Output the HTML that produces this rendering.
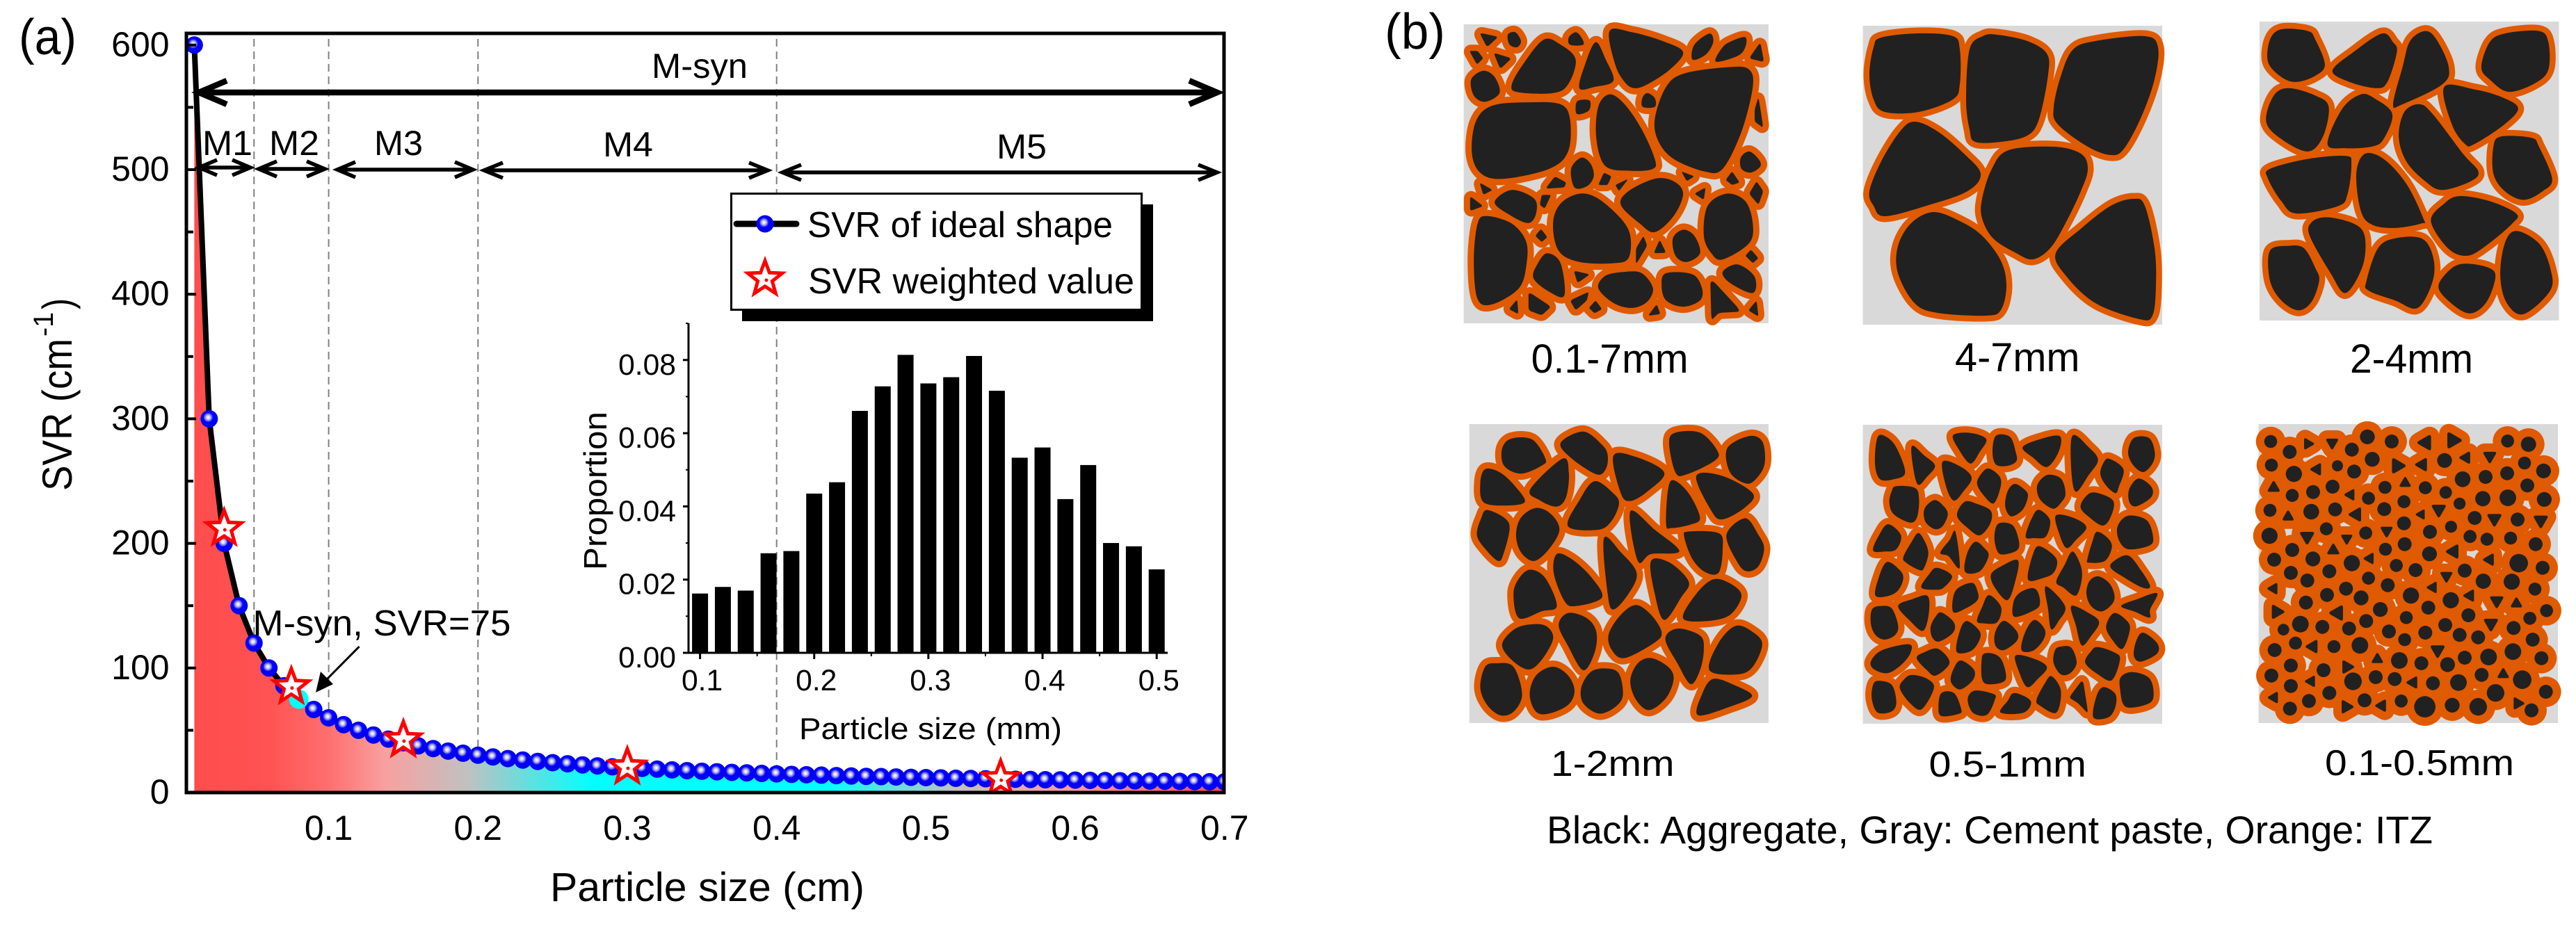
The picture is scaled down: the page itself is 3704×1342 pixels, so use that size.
<!DOCTYPE html>
<html lang="en">
<head>
<meta charset="utf-8">
<title>SVR of ideal shape and aggregate meso-structures</title>
<style>
html,body{margin:0;padding:0;background:#fff}
svg{display:block}
text{font-family:"Liberation Sans",sans-serif;fill:#000}
</style>
</head>
<body>
<svg xmlns="http://www.w3.org/2000/svg" width="3704" height="1342" viewBox="0 0 3704 1342">
<defs>
<linearGradient id="areaGrad" gradientUnits="userSpaceOnUse" x1="279" y1="0" x2="1760" y2="0">
<stop offset="0" stop-color="#ff4d4d"/><stop offset="0.0727" stop-color="#ff5252"/><stop offset="0.131" stop-color="#ff6f6f"/><stop offset="0.186" stop-color="#f9a0a0"/><stop offset="0.264" stop-color="#c2c0c0"/><stop offset="0.388" stop-color="#00ffff"/><stop offset="0.614" stop-color="#00ffff"/><stop offset="0.739" stop-color="#c2c0c0"/><stop offset="0.855" stop-color="#ff9a9a"/><stop offset="1" stop-color="#ff5050"/>
</linearGradient>
<radialGradient id="ball" cx="0.44" cy="0.42" r="0.5">
<stop offset="0" stop-color="#ffffff"/><stop offset="0.18" stop-color="#dcdcff"/><stop offset="0.4" stop-color="#7070f0"/><stop offset="0.56" stop-color="#0000ff"/><stop offset="1" stop-color="#0000f0"/>
</radialGradient>
<clipPath id="plotClip"><rect x="268" y="48" width="1492" height="1092"/></clipPath>
</defs>

<g id="panelA">
<g id="dashes"></g>
<g id="plot" clip-path="url(#plotClip)"></g>
<rect x="268" y="48" width="1492" height="1092" fill="none" stroke="#000" stroke-width="5"/>
<g id="mainTicks"></g>

<text x="27" y="78" font-size="72" textLength="83" lengthAdjust="spacingAndGlyphs">(a)</text>

<text transform="translate(103,706) rotate(-90)" font-size="60" textLength="219" lengthAdjust="spacingAndGlyphs">SVR (cm</text>
<text transform="translate(76,484) rotate(-90)" font-size="40" textLength="35" lengthAdjust="spacingAndGlyphs">-1</text>
<text transform="translate(103,445) rotate(-90)" font-size="60" textLength="16" lengthAdjust="spacingAndGlyphs">)</text>
<text x="791" y="1296" font-size="58" textLength="452" lengthAdjust="spacingAndGlyphs">Particle size (cm)</text>

<text x="937" y="112" font-size="50" textLength="138" lengthAdjust="spacingAndGlyphs">M-syn</text>
<text x="291" y="223" font-size="50" textLength="72" lengthAdjust="spacingAndGlyphs">M1</text>
<text x="387" y="223" font-size="50" textLength="72" lengthAdjust="spacingAndGlyphs">M2</text>
<text x="538" y="223" font-size="50" textLength="70" lengthAdjust="spacingAndGlyphs">M3</text>
<text x="867" y="225" font-size="50" textLength="72" lengthAdjust="spacingAndGlyphs">M4</text>
<text x="1433" y="228" font-size="50" textLength="72" lengthAdjust="spacingAndGlyphs">M5</text>
<g id="ranges"></g>

<g>
<rect x="1067" y="294" width="591" height="168" fill="#000"/>
<rect x="1051.5" y="278.5" width="590" height="167" fill="#fff" stroke="#000" stroke-width="3"/>
<line x1="1059" y1="322" x2="1145" y2="322" stroke="#000" stroke-width="9" stroke-linecap="round"/>
<circle cx="1100" cy="322" r="12.5" fill="url(#ball)"/>
<text x="1161" y="341" font-size="52" textLength="439" lengthAdjust="spacingAndGlyphs">SVR of ideal shape</text>
<path id="legendStar" fill="#fff" stroke="#f00" stroke-width="5"/>
<circle cx="1102" cy="403" r="2.5" fill="#f00"/>
<text x="1162" y="422" font-size="52" textLength="469" lengthAdjust="spacingAndGlyphs">SVR weighted value</text>
</g>

<text x="363.5" y="914" font-size="52" textLength="371" lengthAdjust="spacingAndGlyphs">M-syn, SVR=75</text>
<line x1="516.6" y1="930" x2="468" y2="979" stroke="#000" stroke-width="3"/>
<polygon points="454,996 461,966 479,984" fill="#000"/>

<g id="inset">
<text transform="translate(872,820) rotate(-90)" font-size="46" textLength="228" lengthAdjust="spacingAndGlyphs">Proportion</text>
<text x="1149" y="1063" font-size="44" textLength="378" lengthAdjust="spacingAndGlyphs">Particle size (mm)</text>
</g>
</g>

<g id="panelB">
<text x="1991" y="70" font-size="72" textLength="87" lengthAdjust="spacingAndGlyphs">(b)</text>
<rect x="2104.6" y="35" width="438.4" height="430" fill="#d9d9d9"/>
<rect x="2678.6" y="37" width="430.4" height="430" fill="#d9d9d9"/>
<rect x="3249" y="31" width="430.5" height="430" fill="#d9d9d9"/>
<rect x="2112.7" y="610" width="430.3" height="430" fill="#d9d9d9"/>
<rect x="2678.6" y="611" width="430.4" height="430" fill="#d9d9d9"/>
<rect x="3247.6" y="610" width="430.4" height="430" fill="#d9d9d9"/>
<g id="grains"></g>
<text x="2201.6" y="536" font-size="58" textLength="226" lengthAdjust="spacingAndGlyphs">0.1-7mm</text>
<text x="2811" y="534" font-size="58" textLength="179.5" lengthAdjust="spacingAndGlyphs">4-7mm</text>
<text x="3379" y="536" font-size="58" textLength="177" lengthAdjust="spacingAndGlyphs">2-4mm</text>
<text x="2230" y="1116" font-size="52" textLength="177.6" lengthAdjust="spacingAndGlyphs">1-2mm</text>
<text x="2773.5" y="1117" font-size="52" textLength="226.5" lengthAdjust="spacingAndGlyphs">0.5-1mm</text>
<text x="3343" y="1115" font-size="52" textLength="272" lengthAdjust="spacingAndGlyphs">0.1-0.5mm</text>
<text x="2224" y="1213" font-size="56" textLength="1274" lengthAdjust="spacingAndGlyphs">Black: Aggregate, Gray: Cement paste, Orange: ITZ</text>
</g>
</svg>

<script>
// ---- main chart data ----
const sizes = [0.01,0.02,0.03,0.04,0.05,0.06,0.07,0.08,0.09,0.10,0.11,0.12,0.13,0.14,0.15,0.16,0.17,0.18,0.19,0.20,0.21,0.22,0.23,0.24,0.25,0.26,0.27,0.28,0.29,0.30,0.31,0.32,0.33,0.34,0.35,0.36,0.37,0.38,0.39,0.40,0.41,0.42,0.43,0.44,0.45,0.46,0.47,0.48,0.49,0.50,0.51,0.52,0.53,0.54,0.55,0.56,0.57,0.58,0.59,0.60,0.61,0.62,0.63,0.64,0.65,0.66,0.67,0.68,0.69,0.70];
const svrValues = [600,300,200,150,120,100,85.7,75,66.7,60,54.5,50,46.2,42.9,40,37.5,35.3,33.3,31.6,30,28.6,27.3,26.1,25,24,23.1,22.2,21.4,20.7,20,19.4,18.8,18.2,17.6,17.1,16.7,16.2,15.8,15.4,15,14.6,14.3,14,13.6,13.3,13,12.8,12.5,12.2,12,11.8,11.5,11.3,11.1,10.9,10.7,10.5,10.3,10.2,10,9.8,9.7,9.5,9.4,9.2,9.1,9,8.8,8.7,8.6];
const weightedSizes = [0.03,0.075,0.15,0.30,0.55];
const weightedSvr = [212,85,42.4,20.6,11];
const mSynSize = [0.08];
const mSynSvr = [75];
const boundarySizes = [0.01,0.05,0.1,0.2,0.4];
const boundarySvr = [600,120,60,30,15];
const xTickLabels = ["0.1","0.2","0.3","0.4","0.5","0.6","0.7"];
const yTickLabels = ["0","100","200","300","400","500","600"];
const yMinorTicks = [50,150,250,350,450,550];
// ---- inset histogram data ----
const binCenters = [0.10,0.12,0.14,0.16,0.18,0.20,0.22,0.24,0.26,0.28,0.30,0.32,0.34,0.36,0.38,0.40,0.42,0.44,0.46,0.48,0.50];
const proportions = [0.0162,0.018,0.017,0.0272,0.0278,0.0435,0.0466,0.0661,0.0728,0.0814,0.0736,0.0753,0.0811,0.0716,0.0533,0.0561,0.042,0.0513,0.03,0.0291,0.0228];
const insetXTickLabels = ["0.1","0.2","0.3","0.4","0.5"];
const insetYTickLabels = ["0.00","0.02","0.04","0.06","0.08"];
const insetYMinor = [0.01,0.03,0.05,0.07,0.09];
const insetXMinor = [0.15,0.25,0.35,0.45];

const NS = 'http://www.w3.org/2000/svg';
function mk(tag, parent, attrs){
  const e = document.createElementNS(NS, tag);
  for (const k in attrs) e.setAttribute(k, attrs[k]);
  parent.appendChild(e);
  return e;
}
const xMain = v => 472.6 + (v - 0.1) * 2147;
const yMain = v => 1140 - 1.792 * v;
const xIn = v => 1006.6 + (v - 0.1) * 1641.5;
const yIn = v => 939 - 5265 * v;
function starPath(cx, cy, r){
  let d = '';
  for (let i = 0; i < 10; i++){
    const rr = i % 2 ? r * 0.42 : r;
    const a = -Math.PI / 2 + i * Math.PI / 5;
    d += (i ? 'L' : 'M') + (cx + rr * Math.cos(a)).toFixed(1) + ' ' + (cy + rr * Math.sin(a)).toFixed(1);
  }
  return d + 'Z';
}
document.getElementById('legendStar').setAttribute('d', starPath(1100, 401, 26));

// dashed size boundaries
const dashG = document.getElementById('dashes');
boundarySizes.forEach((s, i) => {
  const l = mk('line', dashG, {x1: xMain(s) - (i === 0 ? 2 : 0), x2: xMain(s) - (i === 0 ? 2 : 0), y1: 56, y2: yMain(boundarySvr[i]), stroke: '#808080', 'stroke-width': 2, 'stroke-dasharray': '11 7'});
  
  
});

// area, curve, markers
const plot = document.getElementById('plot');
const curvePts = sizes.map((s, i) => xMain(s).toFixed(1) + ' ' + yMain(svrValues[i]).toFixed(1));
const area = mk('path', plot, {d: 'M' + xMain(sizes[0]).toFixed(1) + ' ' + yMain(0) + 'L' + curvePts.join('L') + 'L' + xMain(sizes[sizes.length - 1]).toFixed(1) + ' ' + yMain(0) + 'Z', fill: 'url(#areaGrad)'});


const curve = mk('path', plot, {d: 'M' + curvePts.join('L'), fill: 'none', stroke: '#000', 'stroke-width': 8, 'stroke-linejoin': 'round'});


sizes.forEach((s, i) => {
  const m = mk('circle', plot, {cx: xMain(s), cy: yMain(svrValues[i]), r: 12.5, fill: 'url(#ball)'});
  
  
});
mSynSize.forEach((s, i) => {
  const c = mk('circle', plot, {cx: xMain(s), cy: yMain(mSynSvr[i]), r: 14, fill: '#00ffff'});
  
  
});
weightedSizes.forEach((s, i) => {
  const cx = xMain(s), cy = yMain(weightedSvr[i]);
  const st = mk('path', plot, {d: starPath(cx, cy, 26), fill: '#fff', stroke: '#f00', 'stroke-width': 5});
  
  
  const dot = mk('circle', plot, {cx: cx + 1, cy: cy + 2, r: 2.5, fill: '#f00'});
  
  
});

// main ticks
const tickG = document.getElementById('mainTicks');
yTickLabels.forEach(lbl => {
  const v = +lbl;
  const t = mk('line', tickG, {x1: 268, x2: 282, y1: yMain(v), y2: yMain(v), stroke: '#000', 'stroke-width': 4});
  
  
  const x = mk('text', tickG, {x: 243.6, y: yMain(v) + 16, 'font-size': 50, 'text-anchor': 'end'});
  x.textContent = lbl;
  
  
});
yMinorTicks.forEach(v => {
  const t = mk('line', tickG, {x1: 268, x2: 278, y1: yMain(v), y2: yMain(v), stroke: '#000', 'stroke-width': 4});
  
  
});
xTickLabels.forEach(lbl => {
  const x = mk('text', tickG, {x: xMain(+lbl), y: 1208, 'font-size': 50, 'text-anchor': 'middle'});
  x.textContent = lbl;
  
  
});

// range arrows
const rangeG = document.getElementById('ranges');
function arrow(x1, x2, y, sw, back, half, name){
  const d = 'M' + x1 + ' ' + y + 'L' + x2 + ' ' + y +
    'M' + (x1 + back) + ' ' + (y - half) + 'L' + x1 + ' ' + y + 'L' + (x1 + back) + ' ' + (y + half) +
    'M' + (x2 - back) + ' ' + (y - half) + 'L' + x2 + ' ' + y + 'L' + (x2 - back) + ' ' + (y + half);
  const a = mk('path', rangeG, {d: d, fill: 'none', stroke: '#000', 'stroke-width': sw, 'stroke-linejoin': 'miter'});
  
  
}
arrow(286, 1750, 133, 8.5, 40, 17, 'm-syn-range-arrow');
arrow(286, 360, 241, 5.5, 26, 11, 'm1-range-arrow');
arrow(372, 467, 243, 5.5, 26, 11, 'm2-range-arrow');
arrow(485, 680, 244, 5.5, 26, 11, 'm3-range-arrow');
arrow(696, 1104, 245, 5.5, 27, 11, 'm4-range-arrow');
arrow(1125, 1750, 248, 5.5, 27, 11, 'm5-range-arrow');

// inset
const inset = document.getElementById('inset');
binCenters.forEach((c, i) => {
  const top = yIn(proportions[i]);
  const b = mk('rect', inset, {x: xIn(c) - 11.5, y: top, width: 23, height: yIn(0) - top, fill: '#000'});
  
  
});
const ia = mk('path', inset, {d: 'M990 465V939H1679', fill: 'none', stroke: '#000', 'stroke-width': 3});


insetYTickLabels.forEach(lbl => {
  const v = +lbl;
  const t = mk('line', inset, {x1: 982, x2: 990, y1: yIn(v), y2: yIn(v), stroke: '#000', 'stroke-width': 3});
  
  
  const x = mk('text', inset, {x: 972, y: yIn(v) + 21, 'font-size': 42.6, 'text-anchor': 'end'});
  x.textContent = lbl;
  
  
});
insetYMinor.forEach(v => {
  const t = mk('line', inset, {x1: 986, x2: 990, y1: yIn(v), y2: yIn(v), stroke: '#000', 'stroke-width': 2});
  
  
});
insetXTickLabels.forEach(lbl => {
  const v = +lbl;
  const t = mk('line', inset, {x1: xIn(v), x2: xIn(v), y1: 939, y2: 948, stroke: '#000', 'stroke-width': 3});
  
  
  const x = mk('text', inset, {x: xIn(v) + 3, y: 993, 'font-size': 42.6, 'text-anchor': 'middle'});
  x.textContent = lbl;
  
  
});
insetXMinor.forEach(v => {
  const t = mk('line', inset, {x1: xIn(v), x2: xIn(v), y1: 939, y2: 944, stroke: '#000', 'stroke-width': 2});
  
  
});

// ---- meso-structure illustrations (traced outlines) ----
function closed(p){
  const n = p.length;
  let d = '';
  if (n <= 4){
    const f = 0.2;
    for (let i = 0; i < n; i++){
      const a = p[(i + n - 1) % n], b = p[i], c = p[(i + 1) % n];
      const s = [b[0] + (a[0] - b[0]) * f, b[1] + (a[1] - b[1]) * f];
      const e = [b[0] + (c[0] - b[0]) * f, b[1] + (c[1] - b[1]) * f];
      d += (i ? 'L' : 'M') + s[0].toFixed(1) + ' ' + s[1].toFixed(1) + 'Q' + b[0].toFixed(1) + ' ' + b[1].toFixed(1) + ' ' + e[0].toFixed(1) + ' ' + e[1].toFixed(1);
    }
    return d + 'Z';
  }
  d = 'M' + p[0][0].toFixed(1) + ' ' + p[0][1].toFixed(1);
  for (let i = 0; i < n; i++){
    const p0 = p[(i + n - 1) % n], p1 = p[i], p2 = p[(i + 1) % n], p3 = p[(i + 2) % n];
    const c1 = [p1[0] + (p2[0] - p0[0]) / 6, p1[1] + (p2[1] - p0[1]) / 6];
    const c2 = [p2[0] - (p3[0] - p1[0]) / 6, p2[1] - (p3[1] - p1[1]) / 6];
    d += 'C' + c1[0].toFixed(1) + ' ' + c1[1].toFixed(1) + ' ' + c2[0].toFixed(1) + ' ' + c2[1].toFixed(1) + ' ' + p2[0].toFixed(1) + ' ' + p2[1].toFixed(1);
  }
  return d + 'Z';
}
const grains1 = [
[235,132,285,148,255,190],[310,140,330,130,345,165,335,190,315,180],[405,160,450,180,490,240,470,340,430,375,340,372,320,345,350,260],[490,130,505,150,510,180,475,180,472,150],[543,170,570,240,590,325,540,350,500,355,515,260],[580,125,640,130,720,165,775,210,740,280,680,340,645,355,620,330,595,260],[845,135,855,170,835,220,800,240,805,180],[940,150,940,190,920,225,862,248,880,190,905,165],[980,170,990,250,950,235],[208,205,230,205,245,235,228,260],[272,212,320,235,290,278],[245,285,275,310,288,375,250,410,220,385,213,320],[900,270,950,280,960,350,930,530,880,680,830,690,750,640,710,570,700,480,730,350,780,295],[680,375,700,395,700,430,668,430,667,395],[497,405,527,405,525,445,495,460,490,430],[975,390,988,515,965,490,965,440],[270,425,370,412,450,420,475,480,470,610,420,680,300,720,240,700,215,620,225,490],[580,380,620,420,665,520,700,640,695,680,640,688,570,670,545,560,550,430],[505,635,530,660,538,710,520,750,487,755,478,680],[565,695,585,710,575,745,550,745],[435,710,465,735,460,755,410,760],[630,720,605,770,595,745],[770,690,805,710,785,730],[950,610,975,640,980,670,955,695,930,680,928,635],[905,690,925,735,905,745,888,725],[235,735,270,765,245,785],[210,790,245,830,210,850],[320,765,380,800,385,860,365,898,320,870,275,815],[400,785,425,785,408,840,395,825],[500,780,550,800,610,880,635,950,630,1040,590,1060,500,1055,445,1010,430,900,450,820],[700,720,750,730,775,780,750,870,700,935,660,900,610,825,630,770],[835,755,830,805,805,780],[970,730,988,770,975,825,950,780],[890,780,940,810,960,900,950,980,880,1045,850,1020,830,950,840,830],[255,870,320,900,358,970,360,1060,340,1160,270,1225,230,1205,220,1050,230,900],[398,922,415,955,400,975,383,950],[775,925,805,950,820,1020,785,1055,755,1030,748,960],[670,950,680,990,650,1065,650,1000],[713,965,730,1018,697,1020],[955,1005,975,1040,960,1060,940,1030],[415,1020,450,1060,460,1190,420,1175,378,1120,390,1060],[920,1065,965,1115,960,1180,900,1140,880,1095],[485,1090,528,1105,495,1140],[620,1095,665,1100,695,1160,680,1215,640,1240,590,1220,550,1160,570,1110],[730,1100,800,1105,825,1160,820,1210,775,1235,730,1210,718,1150],[847,1118,930,1255,870,1260,850,1290],[365,1175,425,1235,400,1270,365,1250],[335,1205,338,1265,313,1245],[525,1175,520,1210,490,1250,475,1210],[543,1210,560,1245,540,1262,525,1240],[705,1225,715,1265,682,1272],[970,1210,975,1275,948,1250]
];
const grains2 = [
[2705,54,2759,48,2808,52,2818,71,2818,121,2808,143,2759,161,2710,161,2694,143,2688,107,2694,68],
[2872,50,2915,59,2943,77,2945,107,2932,171,2915,195,2877,204,2840,204,2832,186,2827,143,2832,71,2851,52],
[2981,71,3013,59,3084,52,3103,68,3098,114,3079,168,3054,214,3035,223,3002,211,2959,179,2953,154,2964,107],
[2888,216,2953,211,2992,221,3002,243,2992,275,2970,321,2948,357,2923,373,2899,364,2866,343,2850,314,2850,286,2864,243],
[2753,175,2786,189,2824,221,2848,250,2829,275,2770,296,2710,311,2694,296,2688,275,2705,232,2732,189],
[2780,305,2818,318,2850,339,2877,375,2885,411,2877,446,2855,454,2786,450,2753,436,2729,393,2729,354,2748,321],
[3068,286,3084,296,3098,357,3100,411,3095,454,3076,459,3013,436,2970,396,2956,364,2992,329,3035,296]
];
const grains3 = [
[790,118,860,125,880,160,905,260,880,305,830,330,790,310,755,250,760,160],[1055,135,1085,170,1095,210,1070,330,1040,355,970,330,925,285,980,210],[1170,125,1200,160,1232,270,1215,340,1110,420,1085,420,1110,270,1130,165],[1380,135,1470,125,1495,170,1495,280,1460,335,1390,370,1340,320,1318,270,1340,170],[810,355,880,385,915,430,900,550,860,610,790,560,750,490,770,385],[1000,380,1040,400,1083,460,1060,560,1030,590,960,597,912,580,950,440],[1220,350,1300,360,1370,390,1415,435,1380,500,1300,580,1275,580,1240,500],[1155,420,1190,460,1270,620,1310,690,1290,730,1215,765,1170,730,1120,650,1100,550,1115,450],[1370,550,1450,555,1470,590,1505,720,1480,770,1430,805,1380,770,1350,700,1350,590],[760,680,860,640,960,628,975,660,965,780,940,830,830,860,790,810,755,720],[1010,620,1060,640,1120,740,1165,880,1160,900,1090,918,1030,905,1000,850,988,700],[1260,790,1340,810,1410,860,1400,900,1330,990,1280,1030,1230,1000,1185,890,1220,820],[910,875,980,900,1010,950,1005,1070,960,1180,920,1100,865,950,870,895],[1090,960,1160,960,1190,1030,1190,1130,1150,1240,1090,1210,1020,1170,1015,1130,1045,1000],[1410,930,1470,980,1500,1080,1500,1170,1430,1265,1385,1220,1368,1110,1380,980],[810,990,850,1000,880,1080,890,1130,870,1215,835,1250,790,1210,760,1130,760,1010],[1280,1062,1340,1080,1355,1120,1330,1220,1285,1262,1230,1210,1205,1150,1240,1080]
];
const grains4 = [
[320,142,375,145,410,200,400,220,345,243,300,220,295,170],[510,122,560,160,575,190,570,230,545,245,480,200,450,155],[755,125,820,125,865,175,860,205,785,245,755,240,738,155],[950,135,985,150,992,210,975,250,945,272,900,240,892,170],[250,230,290,240,330,280,355,325,300,335,245,325,237,270],[455,200,472,240,465,310,440,338,395,320,370,288],[590,192,650,195,725,240,680,295,635,322,610,300],[750,262,790,300,820,370,795,390,745,400,730,390,735,290],[810,250,880,250,960,300,940,340,880,375,850,350],[540,265,590,300,605,330,585,380,550,405,470,395,500,320],[255,348,300,370,315,400,300,470,285,495,250,460,228,420,240,370],[385,342,425,360,447,405,420,460,380,495,345,470,332,420,345,370],[940,372,975,420,990,460,975,510,945,525,920,500,890,420],[635,352,700,405,765,467,690,475,655,495],[790,410,870,415,880,460,870,528,835,528,800,490,778,425],[440,475,480,490,530,540,560,600,490,625,460,610,432,530],[565,430,610,470,652,530,630,590,590,635,575,590],[690,495,740,500,790,555,770,600,725,665,700,590],[370,520,410,545,440,625,400,640,340,660,325,590,340,545],[855,548,900,560,930,595,900,650,840,668,775,660,810,590],[470,645,520,660,545,700,540,760,510,810,470,740,445,680],[650,622,690,650,718,700,700,730,620,775,585,750,578,705,610,650],[380,677,415,685,430,720,400,780,365,808,320,780,295,735,330,690],[760,690,820,710,830,750,820,810,795,850,760,790,728,720],[915,682,960,700,985,735,960,800,920,822,845,810,870,730],[280,790,325,800,348,880,325,930,290,940,255,910,237,860,250,800],[430,800,470,825,487,870,470,910,420,935,385,930,368,880,385,825],[570,805,605,820,615,885,590,920,550,935,510,905,505,860,530,815],[690,775,735,800,750,835,730,890,685,925,650,895,635,840,655,790],[855,835,915,855,958,885,900,915,815,940,825,880]
];
const grains5 = [
[90,85,135,90,175,140,208,240,160,268,100,268,78,200],[237,125,290,165,337,210,300,260,265,292,245,230],[415,78,490,68,558,95,530,150,490,200,440,140],[600,80,660,85,685,150,688,190,650,210,600,205,585,150],[715,130,790,95,875,82,870,150,820,215,760,175],[930,80,1000,130,1040,185,1000,250,945,322,925,230],[1195,90,1260,90,1285,150,1275,200,1235,237,1190,205,1170,150],[370,192,450,215,495,262,460,320,418,360,385,300],[570,222,615,255,620,300,590,372,545,335,518,285,540,240],[1090,180,1150,225,1130,300,1115,328,1075,295,1050,245,1065,195],[1215,265,1270,300,1270,345,1205,385,1175,365,1175,310],[170,298,250,305,268,350,260,430,230,455,160,420,140,370,150,320],[820,250,880,265,900,330,880,370,845,395,790,355,778,295],[680,288,720,310,738,340,715,400,665,428,640,385,650,320],[335,358,375,385,392,420,370,470,335,483,295,450,292,395],[1025,325,1105,360,1095,430,1060,468,1000,430,965,390,985,345],[465,365,520,375,578,405,575,460,530,510,480,480,432,425],[785,400,833,445,815,515,765,522,728,515,755,435],[858,425,935,435,990,475,945,530,905,565,875,510],[1170,425,1250,445,1278,520,1260,555,1170,570,1130,530,1125,470],[135,462,190,510,170,570,120,580,70,575,95,510],[265,500,295,540,308,590,290,650,270,660,215,630,200,605,235,540],[425,495,443,650,395,600,360,585,400,530],[610,460,670,465,697,525,695,570,650,590,610,585,593,520],[1035,495,1080,520,1100,560,1070,620,1000,628,995,610,1015,540],[510,538,550,565,568,600,530,665,467,668,475,590],[790,557,860,610,850,670,800,695,738,700,760,590],[930,580,965,640,970,700,945,770,890,735,860,710,895,640],[1170,597,1225,660,1265,730,1230,735,1150,690,1095,650,1110,620],[130,625,185,660,200,695,180,745,140,770,80,770,95,690],[695,618,680,720,648,790,595,735,578,680,620,645],[345,650,410,685,375,735,340,745,278,735,310,680],[1045,688,1095,725,1110,790,1060,838,1010,815,990,760,1005,705],[495,715,520,750,520,790,470,825,415,840,425,750],[815,730,898,815,870,880,838,915,825,830],[750,738,778,750,790,800,770,830,680,862,675,800,700,760],[1295,760,1265,830,1262,865,1200,840,1140,815,1210,785],[305,772,310,850,285,922,230,880,178,815,240,785],[570,768,622,820,605,885,550,890,518,880,540,820],[100,815,150,825,178,900,165,940,120,960,80,940,60,890,65,830],[925,815,1000,845,1045,885,1010,945,970,985,945,900],[1110,845,1170,885,1175,930,1145,1000,1105,965,1075,905],[365,843,418,885,415,930,355,968,325,950,318,905,340,860],[475,880,530,925,525,970,490,1010,430,1012,445,920],[640,880,690,925,690,965,635,1005,600,990,593,945,610,900],[765,875,810,915,805,960,760,1008,710,1005,725,930],[1235,930,1295,975,1295,1020,1225,1055,1195,1030,1205,965],[225,980,230,1020,190,1070,130,1105,70,1085,62,1050,110,1005],[880,990,925,995,948,1060,920,1105,880,1110,848,1060,855,1005],[350,1000,400,1060,340,1115,300,1090,258,1040,290,1015],[1040,992,1110,1015,1135,1045,1100,1135,1040,1110,985,1060,1010,1010],[550,1020,600,1025,630,1060,640,1135,570,1153,540,1130,538,1050],[685,1028,770,1045,820,1080,780,1130,735,1165,700,1100],[450,1050,505,1090,500,1135,445,1175,405,1140,420,1080],[1190,1100,1260,1125,1280,1190,1260,1235,1160,1250,1135,1170,1140,1120],[90,1138,150,1155,170,1230,150,1270,90,1275,65,1220,68,1160],[240,1112,305,1130,332,1170,280,1260,230,1235,185,1170,205,1130],[840,1118,880,1180,860,1275,790,1245,775,1220,810,1150],[975,1130,998,1280,955,1235,915,1210],[1065,1165,1115,1195,1115,1250,1085,1295,1020,1295,1035,1200],[365,1190,420,1192,450,1260,440,1280,365,1290,352,1250],[510,1180,590,1195,595,1220,560,1285,500,1275,478,1215],[680,1190,750,1225,720,1275,620,1275,650,1225]
];
// panel 6: [x,y,r] rounded grain, [x,y,r,angle] triangular grain
const grains6 = [
[75,105,28],[157,150,30],[235,115,28,0],[340,110,30,90],[425,140,30],[492,85,32],[597,105,30],[745,110,38,60],[860,100,40,120],[1097,103,28],[1187,117,33],
[78,207,28],[175,245,35],[275,225,30,60],[363,210,24],[435,235,30],[513,182,32],[620,210,38,120],[730,205,33,60],[825,187,32],[918,175,30,60],[1020,168,32,90],[1170,198,28],[1252,232,32],
[88,305,30,-90],[168,338,28],[258,323,30],[342,300,30],[420,335,28,60],[497,350,28],[568,303,28],[655,285,28,-90],[742,305,28],[830,325,27],[903,268,34],[1002,258,30],[1095,242,30],[1182,295,30],
[72,402,28],[150,430,28,-90],[250,408,34],[353,398,30],[445,420,35,60],[565,397,30],[650,365,28],[725,420,25,60],[800,398,35,90],[890,373,26],[990,352,33],[1098,348,36],[1255,355,32],
[70,512,35],[232,515,35,90],[315,482,28],[403,523,28,90],[485,500,28],[575,490,30,90],[650,458,30],[762,495,30],[853,473,26],[955,435,30],[1040,438,35,90],[1140,442,30],[1240,445,35,90],
[168,573,30],[345,575,30,-90],[570,570,28],[653,548,30],[760,590,32],[865,580,35,-60],[935,515,28],[1008,527,28],[1110,522,28],[1218,548,30],
[90,615,30],[257,612,32],[425,630,35],[503,610,28,60],[617,640,28],[700,660,30],[1020,615,30,-60],[1145,630,40],[1248,650,30],
[162,672,30],[328,665,30],[833,685,30,90],[912,662,30],[992,708,33],[1115,710,35],
[88,740,28,60],[233,705,30],[497,695,28],[580,725,30],[775,735,28,60],[1215,742,28],
[227,800,30],[318,767,30],[400,740,30],[465,780,32],[680,770,35],[852,790,35],[935,770,30,60],[1050,792,33,90],[1135,805,28,-90],[1265,835,28],
[100,840,35,120],[365,845,38,60],[548,830,32],[755,822,30],[660,865,28],[928,855,30],[1193,868,28],
[130,917,25],[203,893,36],[298,905,30],[413,912,30],[487,880,30],[585,925,30],[828,897,30],[1025,890,35,90],[1123,910,30],
[182,975,28],[258,990,33,60],[348,990,28],[460,985,36],[653,960,28],[742,930,30],[890,940,30],[970,950,30],[1205,960,30],
[92,1005,30],[795,1005,35,90],[912,1038,30],[1015,1035,36],[1120,1012,36],[1243,1040,30],
[162,1072,30],[403,1078,33,120],[303,1092,30],[535,1045,28,-90],[630,1050,36],[725,1062,30],[838,1068,32],
[78,1115,30],[162,1160,30],[250,1140,28,60],[430,1140,38],[528,1122,30],[610,1130,30],[690,1145,30,60],[775,1148,30],[885,1145,36],[985,1112,30],[1078,1110,28,-90],[1160,1133,40],
[90,1210,28,60],[328,1190,30],[1045,1190,38],[1262,1185,30],
[158,1258,30],[240,1225,30],[400,1250,33,120],[480,1222,30],[555,1245,30,60],[638,1225,28],[740,1250,46],[858,1243,32],[970,1250,38],[1140,1235,30,120],[1200,1265,30]
];
const grainsG = document.getElementById('grains');
function drawPanel(name, polys, ox, oy, sx, sy, ring){
  let d = '';
  polys.forEach(f => {
    const p = [];
    for (let i = 0; i < f.length; i += 2) p.push([ox + f[i] * sx, oy + f[i + 1] * sy]);
    d += closed(p);
  });
  const rp = mk('path', grainsG, {d: d, fill: '#e05a00', stroke: '#e05a00', 'stroke-width': ring, 'stroke-linejoin': 'round'});
  
  
  const ap = mk('path', grainsG, {d: d, fill: '#212121'});
  
  
}
const polys6 = grains6.map(g => {
  const out = [];
  if (g.length === 4){
    for (let k = 0; k < 3; k++){
      const a = (g[3] + k * 120) * Math.PI / 180;
      out.push(g[0] + 1.15 * g[2] * Math.cos(a), g[1] + 1.15 * g[2] * Math.sin(a));
    }
  } else {
    for (let k = 0; k < 8; k++){
      const a = k * Math.PI / 4;
      out.push(g[0] + g[2] * Math.cos(a), g[1] + g[2] * Math.sin(a));
    }
  }
  return out;
});
drawPanel('micro-0-1-7mm', grains1, 2000, 0, 1 / 1.845, 1 / 2.8, 18);
drawPanel('micro-4-7mm', grains2, 0, 0, 1, 1, 17);
drawPanel('micro-2-4mm', grains3, 2850, 0, 1 / 1.836, 1 / 2.8, 17);
drawPanel('micro-1-2mm', grains4, 2000, 560, 1 / 1.845, 1 / 2.005, 18);
drawPanel('micro-0-5-1mm', grains5, 2670, 600, 1 / 3, 1 / 3, 18);
drawPanel('micro-0-1-0-5mm', polys6, 3240, 600, 1 / 3, 1 / 3, 24);
</script>
</body>
</html>
